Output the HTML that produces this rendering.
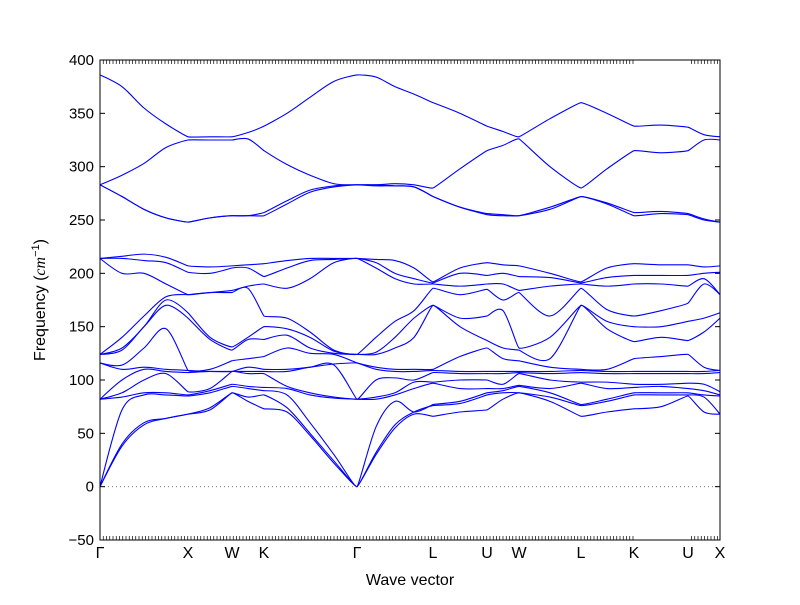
<!DOCTYPE html>
<html><head><meta charset="utf-8"><style>
body{margin:0;background:#fff;}
svg text{font-family:"Liberation Sans","DejaVu Sans",sans-serif;}
</style></head><body>
<svg id="chart" width="800" height="600" xmlns="http://www.w3.org/2000/svg">
<rect x="0" y="0" width="800" height="600" fill="#fff"/>
<g id="plot"></g>
<g id="axes"></g>
<text x="410" y="585" font-size="16" text-anchor="middle">Wave vector</text>
<text transform="translate(45,300) rotate(-90)" font-size="16" text-anchor="middle">Frequency (<tspan font-style="italic" font-family="Liberation Serif, serif">cm</tspan><tspan font-size="11" dy="-6">−1</tspan><tspan dy="6">)</tspan></text>
</svg>
<script>
const kLabels=["Γ","X","W","K","Γ","L","U","W","L","K","U","X"];
const kLabelPos=[0,88,132,164,257,333,387,419,481,534,588,620];
const kNodes=[0,22,44,66,88,110,132,148,164,187,210,234,257,276,295,314,333,360,387,403,419,450,481,507,534,561,588,604,620];
const yTicks=[-50,0,50,100,150,200,250,300,350,400];
const freqs=[
[0,0,0,82,82,82,116,116,124,124,124,214,214,214,283,283,283,386],
[38,40,72,84,88,100,110,114,128,130,140,200,214,216,272,272,292,375],
[58,60,100,86,88,130,110,112,150,150,160,200,212,218,260,260,303,355],
[64,64,106,86,88,148,108,110,175,170,178,190,210,215,252,252,318,340],
[68,68,85,86,89,107,109,109,158,163,180,180,201,207,248,248,325,328],
[72,74,88,90,92,108,108,110,140,138,182,182,200,206,252,252,325,328],
[88,88,94,96,108,108,108,118,128,131,182,184,205,207,254,254,325,328],
[80,84,92,94,106,108,112,120,140,138,186,188,205,208,254,254,326,332],
[73,86,90,93,106,108,110,122,138,150,160,190,197,209,254,257,315,338],
[70,74,86,92,94,108,110,130,142,148,158,186,205,212,265,268,302,350],
[48,50,60,86,88,112,112,125,130,140,145,195,212,214,276,278,292,365],
[22,24,30,83,84,114,115,124,125,127,128,210,213,214,281,282,284,380],
[0,0,0,82,82,82,116,116,124,124,124,214,214,214,283,283,283,386],
[30,32,56,82,84,100,110,112,124,126,140,205,210,213,283,283,282,384],
[55,58,86,80,88,102,108,110,130,140,155,195,200,212,282,282,284,375],
[68,70,98,70,92,100,108,110,140,158,165,190,195,205,281,281,283,368],
[66,76,77,97,98,107,109,110,170,170,186,190,191,192,272,272,280,360],
[70,78,80,92,100,106,108,122,150,158,180,188,200,205,262,262,298,350],
[72,86,88,92,100,106,108,137,130,160,185,190,198,210,255,256,315,338],
[82,88,90,92,96,106,108,130,120,165,175,190,200,208,254,255,320,333],
[88,88,94,95,106,107,108,118,128,130,182,184,197,207,254,254,326,328],
[80,84,88,92,100,106,108,112,120,140,160,188,196,200,260,262,300,345],
[66,76,77,97,98,107,109,110,170,170,186,190,191,192,272,272,280,360],
[70,80,82,92,98,106,108,110,148,155,166,188,196,205,265,266,298,350],
[73,86,88,93,96,106,108,120,136,150,160,190,198,209,254,257,315,338],
[75,86,88,94,96,106,108,122,140,150,165,190,198,208,256,258,313,339],
[85,86,88,92,97,106,108,124,137,155,172,188,198,208,255,256,315,337],
[70,84,86,90,96,106,108,112,145,158,190,195,200,206,250,251,325,330],
[68,68,85,86,89,107,109,109,158,163,180,180,201,207,248,248,325,328]
];
const NS="http://www.w3.org/2000/svg";
const L=100,R=720,T=60,B=540,kMax=620,yMin=-50,yMax=400;
const sx=k=>L+(k/kMax)*(R-L);
const sy=v=>B-(v-yMin)/(yMax-yMin)*(B-T);
const plot=document.getElementById('plot'),axes=document.getElementById('axes');
function mk(tag,attrs,parent){const e=document.createElementNS(NS,tag);for(const a in attrs)e.setAttribute(a,attrs[a]);parent.appendChild(e);return e;}
const z=mk('line',{x1:L,x2:R,y1:sy(0),y2:sy(0),stroke:'#777','stroke-width':1,'stroke-dasharray':'1,3'},plot);


const sorted=freqs.map(r=>r.slice().sort((a,b)=>a-b));
const nb=sorted[0].length;
const sharp=new Set(kLabelPos);
for(let b=0;b<nb;b++){
  const pts=kNodes.map((k,i)=>[sx(k),sy(sorted[i][b])]);
  let d='M'+pts[0][0].toFixed(2)+','+pts[0][1].toFixed(2);
  for(let i=0;i<pts.length-1;i++){
    const p0=pts[Math.max(0,i-1)],p1=pts[i],p2=pts[i+1],p3=pts[Math.min(pts.length-1,i+2)];
    const t1=sharp.has(kNodes[i])?0.05:0.16, t2=sharp.has(kNodes[i+1])?0.05:0.16;
    const c1=[p1[0]+(p2[0]-p0[0])*t1,p1[1]+(p2[1]-p0[1])*t1];
    const c2=[p2[0]-(p3[0]-p1[0])*t2,p2[1]-(p3[1]-p1[1])*t2];
    d+=' C'+c1[0].toFixed(2)+','+c1[1].toFixed(2)+' '+c2[0].toFixed(2)+','+c2[1].toFixed(2)+' '+p2[0].toFixed(2)+','+p2[1].toFixed(2);
  }
  const p=mk('path',{d:d,fill:'none',stroke:'#0000ff','stroke-width':1.1},plot);
  
  
}
const fr=mk('rect',{x:L,y:T,width:R-L,height:B-T,fill:'none',stroke:'#000','stroke-width':1},axes);


yTicks.forEach(v=>{
  const y=sy(v);
  mk('line',{x1:L,x2:L+5,y1:y,y2:y,stroke:'#000'},axes);
  mk('line',{x1:R-5,x2:R,y1:y,y2:y,stroke:'#000'},axes);
  const t=mk('text',{x:L-6,y:y+5,'font-size':15,'text-anchor':'end'},axes);
  t.textContent=(v<0?'−':'')+Math.abs(v);
  
  
});
for(let x=L;x<=R;x+=3.25){
  if(x>636&&x<690)continue;
  mk('line',{x1:x,x2:x,y1:B,y2:B-4,stroke:'#000','stroke-width':0.7},axes);
  mk('line',{x1:x,x2:x,y1:T,y2:T+4,stroke:'#000','stroke-width':0.7},axes);
}
kLabels.forEach((lab,i)=>{
  const t=mk('text',{x:sx(kLabelPos[i]),y:B+18,'font-size':16,'text-anchor':'middle'},axes);
  t.textContent=lab;
  
  
});
</script>
</body></html>
